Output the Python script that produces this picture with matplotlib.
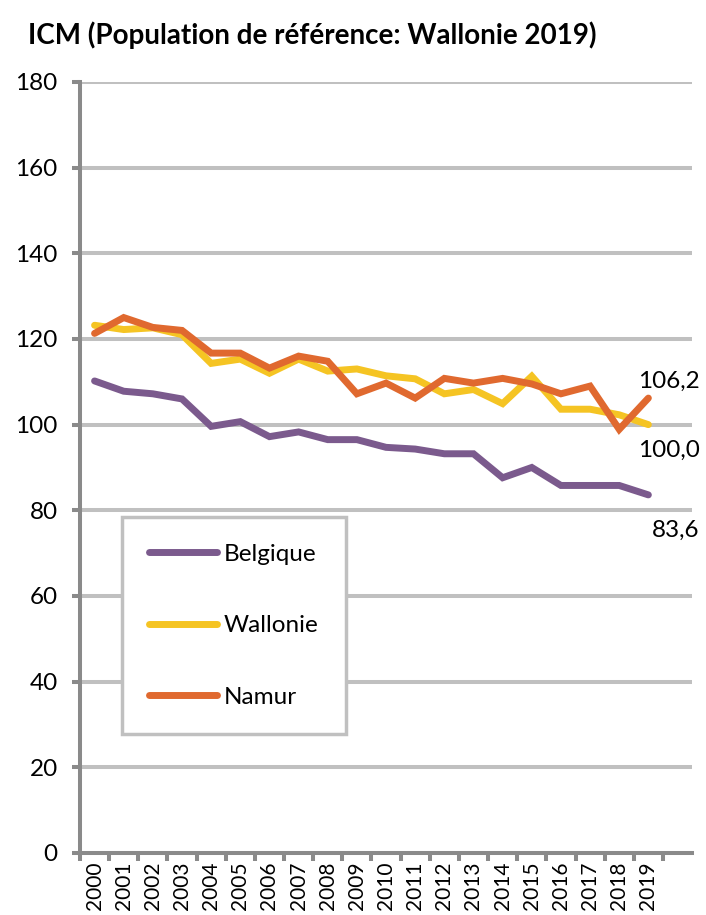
import matplotlib
matplotlib.use("Agg")
from matplotlib import pyplot as plt
import numpy as np

plt.rcParams['font.family'] = ['Lato', 'DejaVu Sans']

years = [str(y) for y in range(2000, 2020)]
belgique = [110.2, 107.8, 107.2, 106.0, 99.6, 100.7, 97.2, 98.3, 96.5, 96.5,
            94.7, 94.3, 93.2, 93.2, 87.6, 90.0, 85.8, 85.8, 85.8, 83.6]
wallonie = [123.2, 122.2, 122.6, 121.0, 114.3, 115.3, 112.0, 115.3, 112.5, 113.0,
            111.4, 110.7, 107.2, 108.2, 104.9, 111.3, 103.6, 103.6, 102.3, 100.0]
namur = [121.3, 125.0, 122.7, 122.0, 116.7, 116.7, 113.2, 116.0, 114.8, 107.2,
         109.7, 106.2, 110.8, 109.7, 110.8, 109.5, 107.2, 109.0, 98.9, 106.2]
series_names = ['Belgique', 'Wallonie', 'Namur']
colors = ['#7B5A8D', '#F5C423', '#E0692F']
end_labels = ['83,6', '100,0', '106,2']

fig = plt.figure(figsize=(7.06, 9.15), dpi=100)
ax = fig.add_axes([0.1133, 0.0678, 0.867, 0.8426])

x = np.arange(len(years))
for vals, name, c in zip([belgique, wallonie, namur], series_names, colors):
    ax.plot(x, vals, color=c, lw=5, label=name, solid_capstyle='round',
            solid_joinstyle='miter', zorder=3)

ax.set_ylim(0, 180)
ax.set_xlim(-0.5, 20.5)
ax.set_yticks(range(0, 181, 20))
ax.yaxis.grid(True, color='#C0C0C0', lw=2.9)
ax.set_axisbelow(True)

ax.set_xticks(x)
ax.set_xticklabels(years, rotation=90, fontsize=15)
ax.set_xticks(np.arange(-0.5, 20, 1), minor=True)
ax.tick_params(axis='x', which='major', length=0, pad=6)
ax.tick_params(axis='x', which='minor', length=6, width=2.9, color='#8A8A8A')
ax.tick_params(axis='y', length=6, width=2.9, color='#8A8A8A', labelsize=17.5, pad=10)

for s in ['top', 'right']:
    ax.spines[s].set_visible(False)
for s in ['left', 'bottom']:
    ax.spines[s].set_color('#8A8A8A')
    ax.spines[s].set_linewidth(2.9)

# end-of-line value labels, right-aligned near the figure edge
offsets = [(37, -30.5), (37, -23), (37, 7.6)]
for vals, lab, off in zip([belgique, wallonie, namur], end_labels, offsets):
    ax.annotate(lab, xy=(x[-1], vals[-1]), xytext=off, textcoords='offset points',
                ha='right', va='baseline', fontsize=17.5)

leg = ax.legend(loc='upper left', bbox_to_anchor=(0.0686, 0.436), fontsize=17.5,
                handlelength=2.8, handletextpad=0.3, labelspacing=2.08,
                borderpad=1.1, borderaxespad=0, fancybox=False, framealpha=1)
leg.get_frame().set_edgecolor('#C0C0C0')
leg.get_frame().set_linewidth(2.5)

fig.text(0.04, 0.962, 'ICM (Population de référence: Wallonie 2019)',
         fontsize=20, fontweight='bold', va='center', ha='left')

fig.savefig('out.png', dpi=100)
